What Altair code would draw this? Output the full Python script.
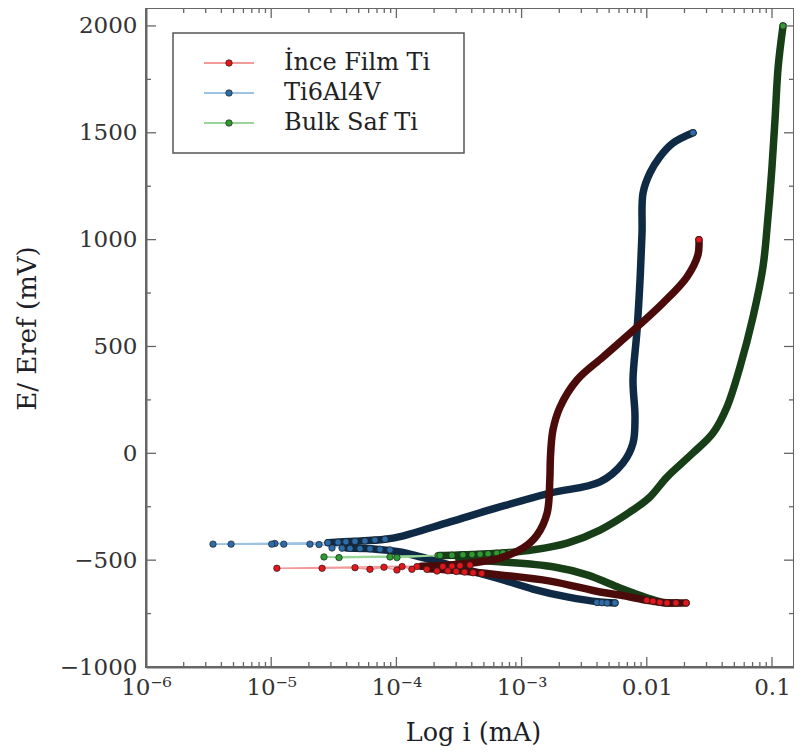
import altair as alt
import pandas as pd

series_names = ["İnce Film Ti", "Ti6Al4V", "Bulk Saf Ti"]
marker_colors = ["#e3161c", "#2d6ca8", "#2f9a2f"]
light_colors = ["#f29a9a", "#9cc2e6", "#9ad69a"]
band_colors = ["#4c0b0b", "#0f2a44", "#173e17"]

# ---------------- İnce Film Ti (red) ----------------
ince_cath_i = [2.06e-2, 1.71e-2, 1.45e-2, 1.27e-2, 1.12e-2, 1.00e-2, 6.11e-3, 4.23e-3, 1.69e-3, 6.71e-4, 2.68e-4, 1.78e-4]
ince_cath_E = [-700, -700, -700, -697, -692, -688, -663, -649, -598, -569, -546, -540]
ince_ecorr_i = [2.11e-4, 1.75e-4, 1.46e-4, 1.33e-4, 1.11e-4, 1.01e-4, 7.96e-5, 6.15e-5, 4.67e-5, 2.55e-5, 1.11e-5]
ince_ecorr_E = [-551, -543, -530, -543, -530, -546, -533, -543, -535, -538, -538]
ince_anod_i = [1.58e-4, 2.68e-4, 6.71e-4, 1.03e-3, 1.33e-3, 1.60e-3, 1.68e-3, 1.70e-3, 1.78e-3, 2.03e-3,
               2.77e-3, 4.47e-3, 8.36e-3, 1.35e-2, 2.09e-2, 2.56e-2, 2.61e-2]
ince_anod_E = [-528, -523, -490, -443, -382, -279, -125, -17, 109, 217, 343, 451, 591, 704, 825, 928, 1000]
ince_dots_i = [2.35e-4, 2.78e-4, 3.22e-4, 3.87e-4, 2.58e-4, 3.00e-4, 3.50e-4, 4.10e-4, 4.80e-4,
               1.00e-2, 1.12e-2, 1.27e-2, 1.45e-2, 1.71e-2, 2.06e-2, 2.61e-2]
ince_dots_E = [-530, -528, -526, -523, -550, -553, -556, -559, -562, -688, -692, -697, -700, -700, -700, 1000]

# ---------------- Ti6Al4V (blue) ----------------
ti64_cath_i = [5.57e-3, 4.23e-3, 2.31e-3, 1.23e-3, 6.71e-4, 2.68e-4, 1.07e-4, 6.30e-5, 4.00e-5]
ti64_cath_E = [-700, -696, -672, -635, -588, -523, -462, -447, -443]
ti64_ecorr_i = [2.41e-5, 2.04e-5, 1.26e-5, 1.07e-5, 1.01e-5, 4.78e-6, 3.43e-6]
ti64_ecorr_E = [-427, -425, -425, -422, -425, -425, -425]
ti64_anod_i = [2.84e-5, 4.67e-5, 8.11e-5, 1.07e-4, 2.68e-4, 6.71e-4, 1.69e-3, 4.23e-3, 6.46e-3, 7.76e-3,
               8.05e-3, 7.76e-3, 8.36e-3, 8.83e-3, 9.16e-3, 9.33e-3, 1.06e-2, 1.27e-2, 1.62e-2, 2.34e-2]
ti64_anod_E = [-418, -412, -402, -390, -321, -251, -186, -134, -45, 48,
               170, 343, 577, 811, 1031, 1218, 1312, 1387, 1452, 1500]
ti64_dots_i = [2.84e-5, 3.42e-5, 3.95e-5, 4.67e-5, 5.61e-5, 6.74e-5, 8.11e-5,
               3.06e-5, 3.68e-5, 4.26e-5, 5.12e-5, 6.15e-5, 7.40e-5, 8.89e-5,
               4.00e-3, 4.39e-3, 4.81e-3, 5.57e-3, 2.34e-2]
ti64_dots_E = [-418, -416, -414, -412, -410, -406, -402,
               -443, -444, -445, -446, -447, -449, -452,
               -698, -699, -700, -700, 1500]

# ---------------- Bulk Saf Ti (green) ----------------
bulk_cath_i = [1.74e-2, 1.35e-2, 1.00e-2, 6.11e-3, 3.33e-3, 1.78e-3, 6.71e-4, 3.16e-4]
bulk_cath_E = [-700, -698, -676, -630, -569, -531, -508, -497]
bulk_ecorr_i = [2.15e-4, 1.01e-4, 8.89e-5, 3.48e-5, 2.64e-5]
bulk_ecorr_E = [-478, -488, -485, -488, -485]
bulk_anod_i = [2.23e-4, 2.78e-4, 3.40e-4, 4.02e-4, 4.66e-4, 5.40e-4, 6.35e-4, 8.07e-4, 1.23e-3, 2.31e-3,
               4.23e-3, 7.76e-3, 1.06e-2, 1.45e-2, 2.34e-2, 3.38e-2, 4.37e-2, 5.55e-2, 7.05e-2, 8.47e-2,
               9.29e-2, 0.100, 0.106, 0.112, 0.1225]
bulk_anod_E = [-478, -477, -475, -474, -472, -470, -468, -464, -452, -420,
               -359, -265, -204, -111, 2, 95, 217, 404, 638, 872,
               1106, 1340, 1574, 1808, 2000]
bulk_dots_i = [2.23e-4, 2.78e-4, 3.40e-4, 4.02e-4, 4.66e-4, 5.40e-4, 6.35e-4, 7.10e-4, 8.07e-4, 1.74e-2, 0.1225]
bulk_dots_E = [-478, -477, -475, -474, -472, -470, -468, -466, -464, -700, 2000]

# ---------------- axes ----------------
x_major = [1e-6, 1e-5, 1e-4, 1e-3, 1e-2, 1e-1]
x_tick_labels = ["10⁻⁶", "10⁻⁵", "10⁻⁴", "10⁻³", "0.01", "0.1"]
x_minor = [k * d for d in x_major for k in range(2, 10) if k * d < 0.145]
y_major = [-1000, -500, 0, 500, 1000, 1500, 2000]
y_minor = [-750, -250, 250, 750, 1250, 1750]

W, H = 648, 659
FONT = "DejaVu Serif"
AX = "#666666"

xs = alt.Scale(type="log", domain=[1e-6, 0.1499], nice=False)
ys = alt.Scale(domain=[-1000, 2084], nice=False, zero=False)

label_expr = ""
for v, t in zip(x_major[:-1], x_tick_labels[:-1]):
    label_expr += f"datum.value < {v * 2} ? '{t}' : "
label_expr += f"'{x_tick_labels[-1]}'"

x_axis = alt.Axis(values=x_major, labelExpr=label_expr, ticks=False, grid=False,
                  domainColor=AX, domainWidth=2, labelFont=FONT, labelFontSize=23,
                  labelColor="#333333", labelPadding=9, labelFlush=False, labelOverlap=False,
                  titleFont=FONT, titleFontSize=25.5, titleFontWeight="normal", titleColor="#1e1e28",
                  titleX=327, titleY=73, titleBaseline="alphabetic", titleAlign="center")
y_axis = alt.Axis(values=y_major, format="d", ticks=False, grid=False,
                  domainColor=AX, domainWidth=2, labelFont=FONT, labelFontSize=23,
                  labelColor="#333333", labelPadding=9, labelOverlap=False,
                  titleFont=FONT, titleFontSize=26, titleFontWeight="normal", titleColor="#1e1e28",
                  titleX=-119, titleY=320, titleBaseline="middle", titleAlign="center", titleAngle=-90)


def X():
    return alt.X("i:Q", scale=xs, axis=x_axis, title="Log i (mA)")


def Y():
    return alt.Y("E:Q", scale=ys, axis=y_axis, title="E/ Eref (mV)")


series_data = {
    "İnce Film Ti": (ince_cath_i, ince_cath_E, ince_ecorr_i, ince_ecorr_E, ince_anod_i, ince_anod_E, ince_dots_i, ince_dots_E),
    "Ti6Al4V": (ti64_cath_i, ti64_cath_E, ti64_ecorr_i, ti64_ecorr_E, ti64_anod_i, ti64_anod_E, ti64_dots_i, ti64_dots_E),
    "Bulk Saf Ti": (bulk_cath_i, bulk_cath_E, bulk_ecorr_i, bulk_ecorr_E, bulk_anod_i, bulk_anod_E, bulk_dots_i, bulk_dots_E),
}

layers = []
draw_order = [1, 2, 0]  # blue, green, red (red on top)
for k in draw_order:
    name = series_names[k]
    ci, cE, ei, eE, ai, aE, di, dE = series_data[name]
    all_i = ci + ei + ai
    all_E = cE + eE + aE
    thin_df = pd.DataFrame({"i": all_i, "E": all_E, "o": list(range(len(all_i)))})
    band_df = pd.concat([
        pd.DataFrame({"i": ci, "E": cE, "seg": "c", "o": list(range(len(ci)))}),
        pd.DataFrame({"i": ai, "E": aE, "seg": "a", "o": list(range(len(ai)))}),
    ])
    dots_df = pd.DataFrame({"i": ei + di, "E": eE + dE})

    layers.append(alt.Chart(thin_df).mark_line(stroke=light_colors[k], strokeWidth=1.6).encode(
        x=X(), y=Y(), order="o:Q"))
    layers.append(alt.Chart(band_df).mark_line(stroke=band_colors[k], strokeWidth=7.5,
                                                interpolate="catmull-rom",
                                                strokeCap="round", strokeJoin="round").encode(
        x=X(), y=Y(), detail="seg:N", order="o:Q"))
    layers.append(alt.Chart(dots_df).mark_circle(size=42, color=marker_colors[k], opacity=1,
                                                 stroke="#1c1c1c", strokeWidth=0.9, strokeOpacity=0.75).encode(
        x=X(), y=Y()))

# inward ticks on all four sides
tick_style = dict(color=AX, strokeWidth=1.3)
xM = pd.DataFrame({"i": x_major})
xm = pd.DataFrame({"i": x_minor})
yM = pd.DataFrame({"E": y_major})
ym = pd.DataFrame({"E": y_minor})
for df, ln in ((xM, 10), (xm, 5)):
    layers.append(alt.Chart(df).mark_rule(**tick_style).encode(x=X(), y=alt.value(H), y2=alt.value(H - ln)))
    layers.append(alt.Chart(df).mark_rule(**tick_style).encode(x=X(), y=alt.value(0), y2=alt.value(ln)))
for df, ln in ((yM, 10), (ym, 5)):
    layers.append(alt.Chart(df).mark_rule(**tick_style).encode(y=Y(), x=alt.value(0), x2=alt.value(ln)))
    layers.append(alt.Chart(df).mark_rule(**tick_style).encode(y=Y(), x=alt.value(W), x2=alt.value(W - ln)))

# legend box
one = pd.DataFrame({"a": [0]})
layers.append(alt.Chart(one).mark_rect(fill="white", stroke="#555555", strokeWidth=1.5).encode(
    x=alt.value(27), x2=alt.value(318), y=alt.value(25), y2=alt.value(145)))
for r, k in enumerate([0, 1, 2]):
    yy = 55 + 30 * r
    ldf = pd.DataFrame({"series": [series_names[k]]})
    layers.append(alt.Chart(ldf).mark_rule(color=light_colors[k], strokeWidth=1.8).encode(
        x=alt.value(58), x2=alt.value(108), y=alt.value(yy)))
    layers.append(alt.Chart(ldf).mark_circle(size=42, color=marker_colors[k], opacity=1,
                                             stroke="#1c1c1c", strokeWidth=0.9, strokeOpacity=0.75).encode(
        x=alt.value(83), y=alt.value(yy)))
    layers.append(alt.Chart(ldf).mark_text(align="left", baseline="middle", font=FONT, fontSize=24,
                                           color="#222222").encode(
        x=alt.value(138), y=alt.value(yy), text="series:N"))

chart = alt.layer(*layers).properties(
    width=W, height=H,
    autosize=alt.AutoSizeParams(type="none"),
    padding={"left": 138, "top": 0, "right": 0, "bottom": 80},
).configure_view(stroke=AX, strokeWidth=2)

chart.save("out.html", embed_options={"renderer": "svg", "actions": False})
